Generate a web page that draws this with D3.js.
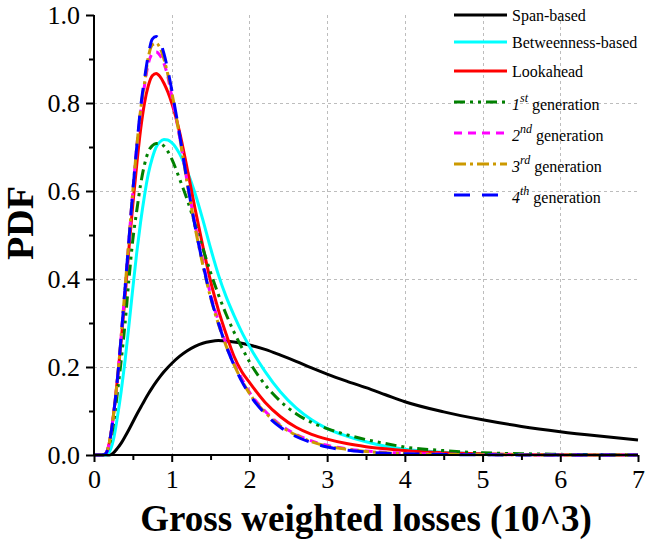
<!DOCTYPE html>
<html>
<head>
<meta charset="utf-8">
<script src="https://cdn.jsdelivr.net/npm/d3@7"></script>
<style>
  html, body { margin: 0; padding: 0; background: #fff; }
  svg { display: block; }
</style>
</head>
<body>
<svg id="chart" width="646" height="541" font-family="Liberation Serif"></svg>
<script>
// ---- Data ----
const xValues = [0, 0.1, 0.15, 0.2, 0.25, 0.3, 0.35, 0.4, 0.45, 0.5, 0.55, 0.6, 0.65, 0.7, 0.75, 0.8, 0.85, 0.9, 0.95,
  1.0, 1.1, 1.2, 1.3, 1.4, 1.5, 1.6, 1.7, 1.8, 1.9, 2.0, 2.2, 2.4, 2.6, 2.8, 3.0, 3.25, 3.5, 3.75, 4.0, 4.5, 5.0, 5.5, 6.0, 6.5, 7.0];

const spanBased = [0, 0, 0, 0, 0.005, 0.015, 0.027, 0.042, 0.058, 0.075, 0.092, 0.108, 0.124, 0.139, 0.153, 0.166, 0.178, 0.189, 0.199,
  0.208, 0.224, 0.237, 0.247, 0.254, 0.258, 0.26, 0.259, 0.257, 0.254, 0.25, 0.24, 0.227, 0.213, 0.198, 0.184, 0.168, 0.153, 0.137, 0.121, 0.098, 0.08, 0.065, 0.053, 0.043, 0.034];

const betweennessBased = [0, 0, 0, 0.008, 0.035, 0.085, 0.145, 0.215, 0.295, 0.38, 0.46, 0.53, 0.59, 0.64, 0.675, 0.7, 0.712, 0.717, 0.716,
  0.71, 0.685, 0.645, 0.595, 0.535, 0.47, 0.41, 0.36, 0.318, 0.28, 0.247, 0.19, 0.143, 0.107, 0.08, 0.06, 0.043, 0.03, 0.02, 0.013, 0.006, 0.0025, 0.001, 0.0005, 0.0002, 0];

const lookahead = [0, 0, 0.003, 0.03, 0.09, 0.17, 0.26, 0.36, 0.47, 0.57, 0.66, 0.74, 0.8, 0.84, 0.862, 0.867, 0.86, 0.845, 0.825,
  0.8, 0.735, 0.65, 0.56, 0.475, 0.395, 0.33, 0.275, 0.225, 0.19, 0.165, 0.12, 0.087, 0.063, 0.047, 0.036, 0.026, 0.019, 0.014, 0.01, 0.005, 0.003, 0.001, 0.0005, 0, 0];

const gen1 = [0, 0, 0.003, 0.025, 0.07, 0.14, 0.215, 0.3, 0.4, 0.49, 0.555, 0.615, 0.66, 0.69, 0.703, 0.708, 0.708, 0.702, 0.69,
  0.673, 0.628, 0.58, 0.525, 0.47, 0.415, 0.365, 0.32, 0.28, 0.245, 0.212, 0.16, 0.122, 0.094, 0.074, 0.06, 0.046, 0.035, 0.026, 0.018, 0.01, 0.005, 0.003, 0.0015, 0.0007, 0];

const gen2 = [0, 0, 0.003, 0.03, 0.09, 0.17, 0.27, 0.38, 0.49, 0.6, 0.7, 0.78, 0.84, 0.89, 0.912, 0.916, 0.908, 0.89, 0.86,
  0.815, 0.725, 0.62, 0.525, 0.44, 0.365, 0.305, 0.253, 0.21, 0.174, 0.143, 0.1, 0.068, 0.047, 0.032, 0.022, 0.014, 0.009, 0.006, 0.004, 0.002, 0.001, 0.0005, 0, 0, 0];

const gen3 = [0, 0, 0.003, 0.03, 0.09, 0.17, 0.27, 0.38, 0.49, 0.6, 0.7, 0.785, 0.845, 0.905, 0.932, 0.936, 0.925, 0.9, 0.865,
  0.825, 0.725, 0.617, 0.518, 0.432, 0.358, 0.298, 0.248, 0.206, 0.17, 0.14, 0.097, 0.066, 0.045, 0.03, 0.02, 0.013, 0.008, 0.005, 0.003, 0.0015, 0.0007, 0.0003, 0, 0, 0];

const gen4 = [0, 0, 0.003, 0.03, 0.09, 0.17, 0.27, 0.38, 0.49, 0.6, 0.7, 0.79, 0.855, 0.91, 0.945, 0.951, 0.94, 0.912, 0.875,
  0.83, 0.73, 0.62, 0.52, 0.435, 0.36, 0.3, 0.248, 0.205, 0.168, 0.138, 0.094, 0.063, 0.042, 0.028, 0.018, 0.011, 0.007, 0.004, 0.003, 0.001, 0.0005, 0, 0, 0, 0];

const seriesNames = ["Span-based", "Betweenness-based", "Lookahead", "1", "2", "3", "4"];
const seriesSup = ["", "", "", "st", "nd", "rd", "th"];
const seriesValues = [spanBased, betweennessBased, lookahead, gen1, gen2, gen3, gen4];
const seriesColors = ["#000000", "#00FFFF", "#FF0000", "#008000", "#FF00FF", "#CC9900", "#0000FF"];
const seriesDash = [null, null, null, "11,5,3,5,3,5", "8,6", "12,4,3,4", "16,12"];

const xTickValues = [0, 1, 2, 3, 4, 5, 6, 7];
const yTickValues = [0.0, 0.2, 0.4, 0.6, 0.8, 1.0];
const xTitle = "Gross weighted losses (10^3)";
const yTitle = "PDF";

// ---- Layout ----
const FONT = "Liberation Serif";
const svg = d3.select("#chart");
const mLeft = 94, mRight = 638, mTop = 15, mBottom = 455;

const x = d3.scaleLinear().domain([0, 7]).range([mLeft, mRight]);
const y = d3.scaleLinear().domain([0, 1]).range([mBottom, mTop]);

// Grid
const grid = svg.append("g").attr("stroke", "#bdbdbd").attr("stroke-width", 1).attr("stroke-dasharray", "3,3");
grid.selectAll("line.v").data(xTickValues.filter(d => d > 0 && d < 7)).join("line")
  .attr("class", "v")
  .attr("x1", d => Math.round(x(d)) + 0.5).attr("x2", d => Math.round(x(d)) + 0.5)
  .attr("y1", mTop).attr("y2", mBottom);
grid.selectAll("line.h").data(yTickValues.filter(d => d > 0 && d < 1)).join("line")
  .attr("class", "h")
  .attr("x1", mLeft).attr("x2", mRight + 2)
  .attr("y1", d => Math.round(y(d)) + 0.5).attr("y2", d => Math.round(y(d)) + 0.5);

// Curves
const line = d3.line().x(d => x(d[0])).y(d => y(d[1])).curve(d3.curveMonotoneX);
seriesValues.forEach((vals, i) => {
  const pts = xValues.map((xv, j) => [xv, vals[j]]);
  svg.append("path")
    .attr("d", line(pts))
    .attr("fill", "none")
    .attr("stroke", seriesColors[i])
    .attr("stroke-width", 3)
    .attr("stroke-dasharray", seriesDash[i])
    .attr("stroke-linejoin", "round");
});

// Axes
const xMinor = d3.range(0.5, 7, 1);
const yMinor = d3.range(0.1, 1, 0.2);

const xAxis = svg.append("g").attr("transform", `translate(0,${mBottom})`)
  .call(d3.axisBottom(x).tickValues(xTickValues).tickFormat(d3.format("d")).tickSize(7).tickPadding(8));
const xAxisMinor = svg.append("g").attr("transform", `translate(0,${mBottom})`)
  .call(d3.axisBottom(x).tickValues(xMinor).tickFormat("").tickSize(5));
const yAxis = svg.append("g").attr("transform", `translate(${mLeft},0)`)
  .call(d3.axisLeft(y).tickValues(yTickValues).tickFormat(d3.format(".1f")).tickSize(8).tickPadding(6));
const yAxisMinor = svg.append("g").attr("transform", `translate(${mLeft},0)`)
  .call(d3.axisLeft(y).tickValues(yMinor).tickFormat("").tickSize(5));

[xAxis, xAxisMinor, yAxis, yAxisMinor].forEach(g => {
  g.attr("font-family", FONT).attr("font-size", 26);
  g.select(".domain").attr("stroke", "#000").attr("stroke-width", 2);
  g.selectAll(".tick line").attr("stroke", "#000").attr("stroke-width", 2);
  g.selectAll("text").attr("fill", "#000").attr("font-family", FONT).attr("font-size", 26);
});
xAxis.select(".domain").attr("d", `M${mLeft},0H${mRight}`);
xAxisMinor.select(".domain").remove();
yAxisMinor.select(".domain").remove();
yAxis.select(".domain").attr("d", `M0,${mTop}V${mBottom}`);

// Axis titles
svg.append("text")
  .attr("x", (mLeft + mRight) / 2)
  .attr("y", 531)
  .attr("text-anchor", "middle")
  .attr("font-family", FONT)
  .attr("font-weight", "bold")
  .attr("font-size", 37)
  .text(xTitle);

svg.append("text")
  .attr("transform", `translate(33,223) rotate(-90)`)
  .attr("text-anchor", "middle")
  .attr("font-family", FONT)
  .attr("font-weight", "bold")
  .attr("font-size", 38)
  .text(yTitle);

// Legend
const legendRows = [15, 42, 71, 102, 133, 164, 195];
const legend = svg.append("g").attr("font-family", FONT);
seriesNames.forEach((name, i) => {
  const ly = legendRows[i];
  legend.append("line")
    .attr("x1", 454).attr("x2", 507).attr("y1", ly).attr("y2", ly)
    .attr("stroke", seriesColors[i]).attr("stroke-width", 3)
    .attr("stroke-dasharray", seriesDash[i]);
  const t = legend.append("text").attr("x", 512).attr("y", ly + 6)
    .attr("font-family", FONT).attr("font-size", 16).attr("fill", "#000");
  if (seriesSup[i]) {
    t.attr("y", ly + 8);
    t.append("tspan").attr("font-style", "italic").text(name);
    t.append("tspan").attr("font-style", "italic").attr("font-size", 12).attr("dy", -8).text(seriesSup[i]);
    t.append("tspan").attr("dy", 8).text(" generation");
  } else {
    t.text(name);
  }
});
</script>
</body>
</html>
